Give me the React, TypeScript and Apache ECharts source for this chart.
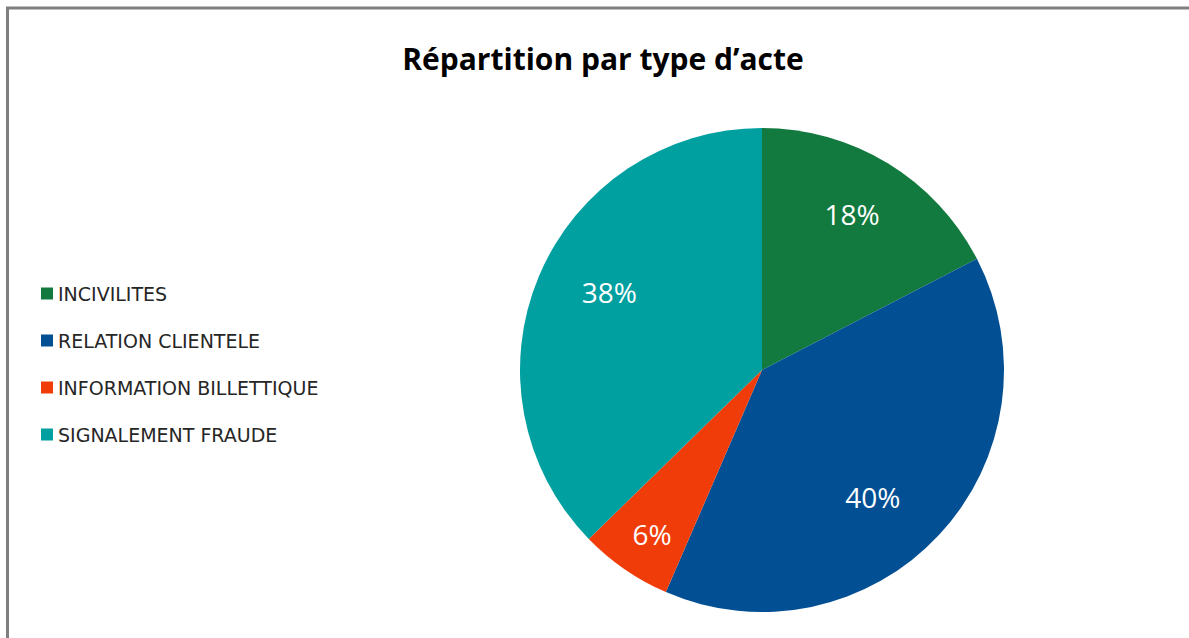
import React, { useEffect, useRef } from "react";
import * as echarts from "echarts";

const categories = ["INCIVILITES", "RELATION CLIENTELE", "INFORMATION BILLETTIQUE", "SIGNALEMENT FRAUDE"];
const values = [17.4, 39.1, 6.2, 37.3];
const labelTexts = ["18%", "40%", "6%", "38%"];
const colors = ["#127a3e", "#024f94", "#f03c08", "#009fa0"];
const titleText = "Répartition par type d’acte";

// visual fine-tuning of label placement (pixels)
const labelNudges = [[-5, 0], [-23, 2], [-6, 13], [16, -7]];

export default function App() {
  const ref = useRef<HTMLDivElement>(null);
  useEffect(() => {
    if (!ref.current) return;
    const chart = echarts.init(ref.current, undefined, { renderer: "svg" });
    const data = categories.map((name, i) => ({ name, value: values[i], itemStyle: { color: colors[i] } }));
    const labelData = categories.map((name, i) => ({
      name,
      value: values[i],
      itemStyle: { color: "rgba(0,0,0,0)" },
      label: { formatter: labelTexts[i], offset: labelNudges[i] },
    }));
    chart.setOption({
      animation: false,
      backgroundColor: "#ffffff",
      legend: {
        orient: "vertical",
        left: 36,
        top: 279,
        itemWidth: 12,
        itemHeight: 12,
        itemGap: 28,
        icon: "rect",
        data: categories,
        textStyle: { fontFamily: "DejaVu Sans", fontSize: 19, color: "#262626" },
        selectedMode: false,
      },
      graphic: [
        {
          type: "polyline",
          shape: { points: [[7.5, 640], [7.5, 8], [1189, 8]] },
          style: { stroke: "#7f7f7f", lineWidth: 3, fill: "none" },
          silent: true,
        },
        {
          type: "text",
          x: 603,
          y: 58,
          style: {
            text: titleText,
            font: "bold 30px 'Open Sans'",
            fill: "#000000",
            textAlign: "center",
            textVerticalAlign: "middle",
          },
        },
      ],
      series: [
        {
          type: "pie",
          center: [762, 370],
          radius: [0, 242],
          startAngle: 90,
          clockwise: true,
          label: { show: false },
          labelLine: { show: false },
          silent: true,
          data,
        },
        {
          type: "pie",
          center: [762, 370],
          radius: [130, 230],
          startAngle: 90,
          clockwise: true,
          silent: true,
          label: {
            show: true,
            position: "inside",
            color: "#ffffff",
            fontFamily: "Open Sans",
            fontSize: 28,
          },
          labelLine: { show: false },
          data: labelData,
        },
      ],
    });
    return () => chart.dispose();
  }, []);
  return <div ref={ref} style={{ position: "fixed", left: 0, top: 0, width: 1189, height: 638 }} />;
}
